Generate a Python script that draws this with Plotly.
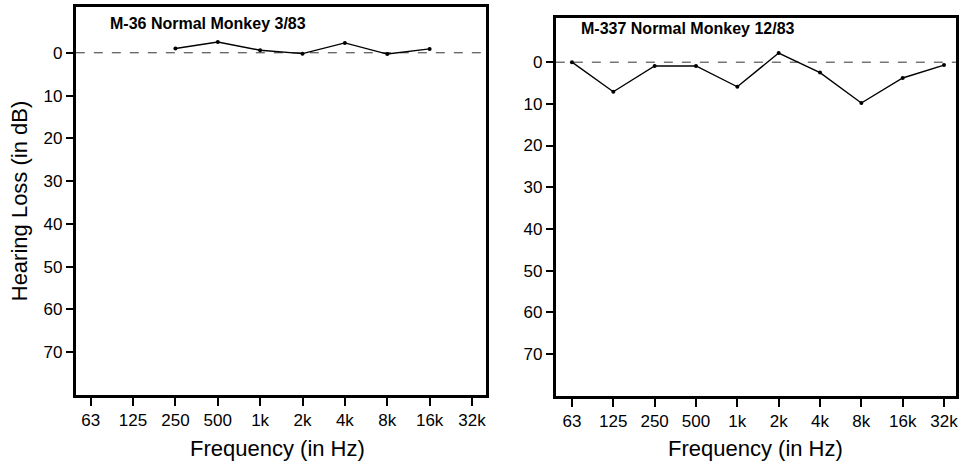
import plotly.graph_objects as go

freq_labels = ["63", "125", "250", "500", "1k", "2k", "4k", "8k", "16k", "32k"]

# M-36 (left panel): measured from 250 Hz to 16 kHz
m36_freqs = ["250", "500", "1k", "2k", "4k", "8k", "16k"]
m36_loss = [-1.0, -2.5, -0.6, 0.2, -2.3, 0.3, -0.9]

# M-337 (right panel): measured 63 Hz to 32 kHz
m337_freqs = ["63", "125", "250", "500", "1k", "2k", "4k", "8k", "16k", "32k"]
m337_loss = [0.0, 7.1, 0.9, 0.9, 5.9, -2.2, 2.5, 9.8, 3.8, 0.7]

y_ticks = [0, 10, 20, 30, 40, 50, 60, 70]

titles = ["M-36 Normal Monkey 3/83", "M-337 Normal Monkey 12/83"]
x_title = "Frequency (in Hz)"
y_title = "Hearing Loss (in dB)"

FONT = "Liberation Sans, Arial, Helvetica, sans-serif"

idx = {f: i for i, f in enumerate(freq_labels)}

fig = go.Figure()
fig.add_trace(go.Scatter(
    x=[idx[f] for f in m36_freqs], y=m36_loss, mode="lines+markers",
    line=dict(color="black", width=1.4), marker=dict(color="black", size=4),
    xaxis="x", yaxis="y", showlegend=False))
fig.add_trace(go.Scatter(
    x=[idx[f] for f in m337_freqs], y=m337_loss, mode="lines+markers",
    line=dict(color="black", width=1.4), marker=dict(color="black", size=4),
    xaxis="x2", yaxis="y2", showlegend=False))

W, H = 966, 463

def xaxis(domain, rng, anchor):
    return dict(domain=domain, range=rng, anchor=anchor,
                tickmode="array", tickvals=list(range(len(freq_labels))), ticktext=freq_labels,
                ticks="outside", ticklen=8, tickwidth=2, tickcolor="black",
                showline=True, linewidth=3, linecolor="black", mirror=True,
                showgrid=False, zeroline=False,
                tickfont=dict(family=FONT, size=17, color="black"))

def yaxis(domain, rng, anchor, title):
    d = dict(domain=domain, range=rng, anchor=anchor,
             tickmode="array", tickvals=y_ticks,
             ticks="outside", ticklen=7, tickwidth=2, tickcolor="black",
             showline=True, linewidth=3, linecolor="black", mirror=True,
             showgrid=False, zeroline=False,
             tickfont=dict(family=FONT, size=17, color="black"))
    if title:
        d["title"] = dict(text=title, standoff=10,
                          font=dict(family=FONT, size=22, color="black"))
    return d

fig.update_layout(
    width=W, height=H,
    margin=dict(l=0, r=0, t=0, b=0),
    paper_bgcolor="white", plot_bgcolor="white",
    xaxis=xaxis([76 / W, 487 / W], [-0.35, 9.33], "y"),
    yaxis=yaxis([1 - 395 / H, 1 - 7 / H], [80.0, -10.7], "x", y_title),
    xaxis2=xaxis([557 / W, 958 / W], [-0.39, 9.29], "y2"),
    yaxis2=yaxis([1 - 396 / H, 1 - 18 / H], [80.1, -10.6], "x2", None),
)

for xr, yr in [("x", "y"), ("x2", "y2")]:
    fig.add_shape(type="line", xref=f"{xr} domain", yref=yr, x0=0, x1=1, y0=0, y1=0,
                  line=dict(color="#333333", width=1, dash="dash"), layer="below")

fig.add_annotation(text="<b>" + titles[0] + "</b>", xref="x domain", yref="y domain",
                   x=(108 - 76) / (487 - 76), y=1 - (24 - 7) / (395 - 7), xanchor="left", yanchor="middle",
                   showarrow=False, font=dict(family=FONT, size=16, color="black"))
fig.add_annotation(text="<b>" + titles[1] + "</b>", xref="x2 domain", yref="y2 domain",
                   x=(580 - 557) / (958 - 557), y=1 - (28 - 18) / (396 - 18), xanchor="left", yanchor="middle",
                   showarrow=False, font=dict(family=FONT, size=16, color="black"))

for cx in (278, 757):
    fig.add_annotation(text=x_title, xref="paper", yref="paper",
                       x=cx / W, y=1 - 448 / H, xanchor="center", yanchor="middle",
                       showarrow=False, font=dict(family=FONT, size=22, color="black"))

fig.write_html("out.html", config={"displayModeBar": False},
               post_script="document.body.style.margin='0px';")
